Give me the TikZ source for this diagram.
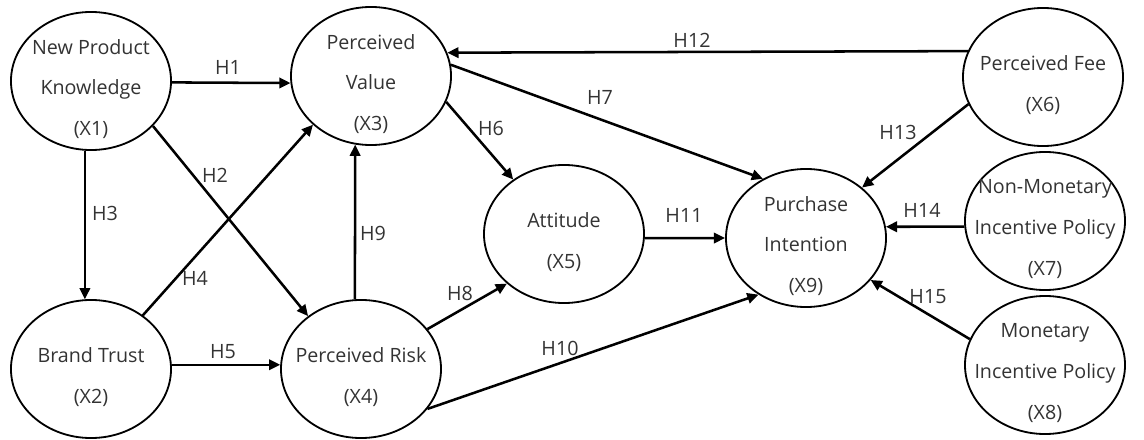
\documentclass[tikz,border=0pt]{standalone}
\usepackage{fontspec}
\setmainfont{Open Sans}
\usetikzlibrary{arrows.meta,shapes.geometric}

\begin{document}
\begin{tikzpicture}[
		x=0.025cm, y=-0.025cm,
		var/.style={ellipse, draw, line width=1.3pt, minimum width=4cm, minimum height=3.45cm, inner sep=0pt},
		txt/.style={align=center, font=\fontsize{14}{29}\selectfont, text=black!80},
		hyp/.style={font=\fontsize{14}{16}\selectfont, text=black!80},
		link/.style={-{Triangle[length=0.28cm, width=0.26cm]}, line width=1.8pt}
	]
		\useasboundingbox (0,0) rectangle (1144,440);
		
		% Left column
		\node[var] (x1) at (91,81) {};
		\node[var] (x2) at (91,369) {};
		
		% Middle
		\node[var] (x3) at (371,76) {};
		\node[var] (x4) at (361,369) {};
		\node[var] (x5) at (564,234) {};
		\node[var] (x9) at (806,238) {};
		
		% Right column
		\node[var] (x6) at (1043,77) {};
		\node[var] (x7) at (1045,221) {};
		\node[var] (x8) at (1045,365) {};
		
		% Texts
		\node[txt] (t1) at (91,89) {New Product\\Knowledge\\(X1)};
		\node[txt] (t2) at (91,377) {Brand Trust\\(X2)};
		\node[txt] (t3) at (371,84) {Perceived\\Value\\(X3)};
		\node[txt] (t4) at (361,377) {Perceived Risk\\(X4)};
		\node[txt] (t5) at (564,242) {Attitude\\(X5)};
		\node[txt] (t9) at (806,246) {Purchase\\Intention\\(X9)};
		\node[txt] (t6) at (1043,85) {Perceived Fee\\(X6)};
		\node[txt] (t7) at (1045,229) {Non-Monetary\\Incentive Policy\\(X7)};
		\node[txt] (t8) at (1045,373) {Monetary\\Incentive Policy\\(X8)};
		
		% Paths
		\draw[link] (x1.-1) -- (x3.185);
		\draw[link] (x1.-36) -- (x4.135);
		\draw[link] (x1.-95) -- (x2.95);
		\draw[link] (x2.46) -- (x3.220);
		\draw[link] (x2.3) -- (x4.177);
		\draw[link] (x3.-19) -- (x5.133);
		\draw[link] (x3.8) -- (x9.126);
		\draw[link] (x4.31) -- (x5.221);
		\draw[link] (x4.95) -- (x3.257);
		\draw[link] (x4.-31) -- (x9.230);
		\draw[link] (x5.-3) -- (x9.180);
		\draw[link] (x6.161) -- (x3.17);
		\draw[link] (x6.200) -- (x9.42);
		\draw[link] (x7.184) -- (x9.8);
		\draw[link] (x8.161) -- (x9.-33);
		
		% Hypothesis labels
		\node[hyp] (h1) at (228,67) {H1};
		\node[hyp] (h2) at (215,175) {H2};
		\node[hyp] (h3) at (105,213) {H3};
		\node[hyp] (h4) at (195,278) {H4};
		\node[hyp] (h5) at (223,352) {H5};
		\node[hyp] (h6) at (491,128) {H6};
		\node[hyp] (h7) at (600,97) {H7};
		\node[hyp] (h8) at (460,293) {H8};
		\node[hyp] (h9) at (373,233) {H9};
		\node[hyp] (h10) at (560,348) {H10};
		\node[hyp] (h11) at (684,215) {H11};
		\node[hyp] (h12) at (692,40) {H12};
		\node[hyp] (h13) at (898,132) {H13};
		\node[hyp] (h14) at (922,210) {H14};
		\node[hyp] (h15) at (928,297) {H15};
	\end{tikzpicture}
\end{document}
